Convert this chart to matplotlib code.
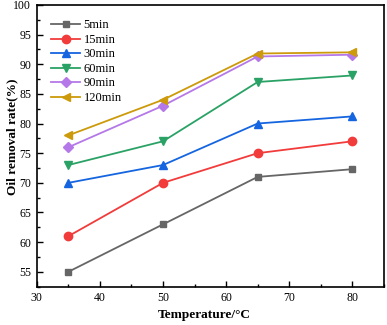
import matplotlib
matplotlib.use("Agg")
import matplotlib.pyplot as plt
from matplotlib.ticker import MultipleLocator

plt.rcParams['font.family'] = ['Liberation Serif', 'DejaVu Serif']
plt.rcParams['mathtext.fontset'] = 'stix'

temperature = [35, 50, 65, 80]
labels = ['5min', '15min', '30min', '60min', '90min', '120min']
v5 = [55, 63, 71, 72.3]
v15 = [61, 70, 75, 77]
v30 = [70, 73, 80, 81.2]
v60 = [73, 77, 87, 88.1]
v90 = [76, 83, 91.3, 91.6]
v120 = [78, 84, 91.8, 92.0]
series = [v5, v15, v30, v60, v90, v120]
colors = ['#666666', '#F23B3B', '#1565E0', '#2AA265', '#B578E8', '#CC9A0A']
markers = ['s', 'o', '^', 'v', 'D', '<']
msizes = [5, 6, 6, 6, 5, 6]

fig = plt.figure(figsize=(3.87, 3.25), dpi=100)
ax = fig.add_axes([0.095, 0.118, 0.897, 0.867])
for vals, lab, c, m, ms in zip(series, labels, colors, markers, msizes):
    ax.plot(temperature, vals, color=c, marker=m, markersize=ms, lw=1.3, label=lab)

ax.set_xlim(30, 85)
ax.set_ylim(52.5, 100)
ax.xaxis.set_major_locator(MultipleLocator(10))
ax.xaxis.set_minor_locator(MultipleLocator(5))
ax.yaxis.set_major_locator(MultipleLocator(5))
ax.yaxis.set_minor_locator(MultipleLocator(2.5))
ax.tick_params(axis='both', which='major', labelsize=8.5, length=4.3, width=1, direction='in', pad=4)
ax.tick_params(axis='both', which='minor', length=2.2, width=1, direction='in')
for s in ax.spines.values():
    s.set_linewidth(1.2)
ax.set_xlabel('Temperature/°C', fontsize=9.6, fontweight='bold')
ax.set_ylabel('Oil removal rate(%)', fontsize=9.6, fontweight='bold')
ax.xaxis.set_label_coords(0.482, -0.078)
ax.yaxis.set_label_coords(-0.052, 0.533)
ax.legend(loc='upper left', bbox_to_anchor=(0.02, 0.975), frameon=False, fontsize=9,
          handlelength=2.3, labelspacing=0.2, handletextpad=0.3, borderaxespad=0.2)
fig.savefig('out.png', dpi=100)
